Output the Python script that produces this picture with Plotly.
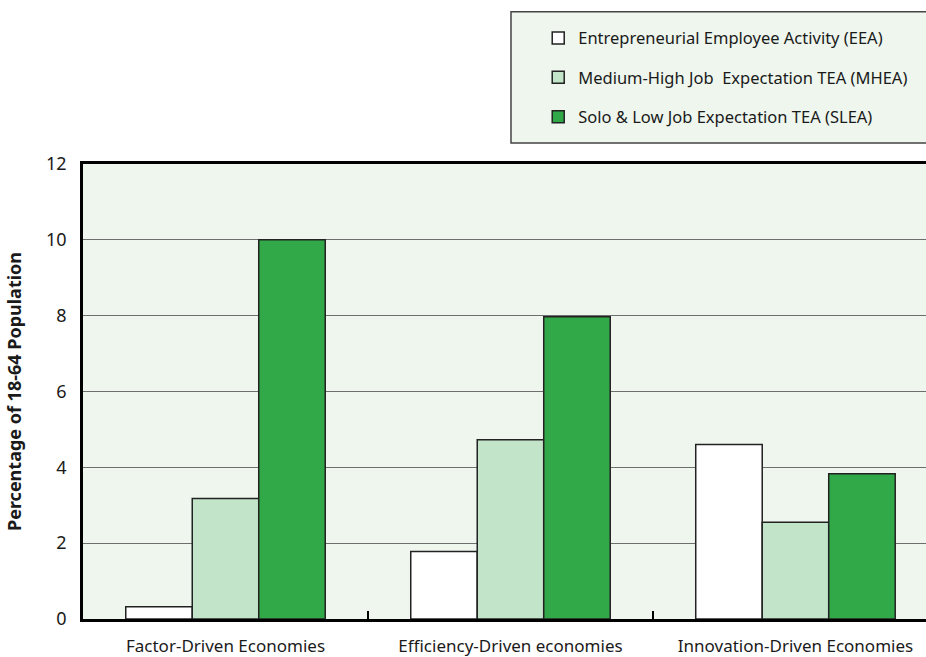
import plotly.graph_objects as go

categories = ["Factor-Driven Economies", "Efficiency-Driven economies", "Innovation-Driven Economies"]
series_names = [
    "Entrepreneurial Employee Activity (EEA)",
    "Medium-High Job  Expectation TEA (MHEA)",
    "Solo & Low Job Expectation TEA (SLEA)",
]
eea = [0.32, 1.78, 4.6]
mhea = [3.18, 4.73, 2.55]
slea = [10.0, 7.97, 3.83]
y_ticks = [0, 2, 4, 6, 8, 10, 12]

colors = ["#FFFFFF", "#C2E5CA", "#32A948"]
FONT = "Noto Sans"

fig = go.Figure()
for i, (name, vals) in enumerate(zip(series_names, [eea, mhea, slea])):
    fig.add_trace(go.Bar(
        x=categories, y=vals, name=name,
        marker=dict(color=colors[i], line=dict(color="#222222", width=1.5)),
        legendgroup=f"g{i}",
    ))

# legend frame
fig.add_shape(type="rect", xref="paper", yref="paper",
              x0=0.5077, x1=1.02, y0=1.046, y1=1.3348,
              line=dict(color="#444444", width=1.5), fillcolor="#EEF6EE", layer="below")

fig.update_layout(
    width=926, height=657,
    margin=dict(l=83, r=0, t=164, b=36, pad=0),
    paper_bgcolor="white",
    plot_bgcolor="#EEF6EE",
    barmode="group",
    bargap=0.3,
    bargroupgap=0,
    font=dict(family=FONT, size=16, color="#1a1a1a"),
    showlegend=True,
    legend=dict(
        x=0.54, y=1.315, xanchor="left", yanchor="top",
        bgcolor="rgba(0,0,0,0)", borderwidth=0,
        font=dict(family=FONT, size=16.5, color="#1a1a1a"),
        traceorder="grouped", tracegroupgap=15,
        itemwidth=30,
    ),
    xaxis=dict(
        range=[-0.5, 2.458],
        showline=True, linecolor="black", linewidth=3, mirror=True,
        ticks="inside", tickson="boundaries", ticklen=8, tickwidth=1.5, tickcolor="black",
        showgrid=False,
        tickfont=dict(family=FONT, size=17, color="#1a1a1a"),
        ticklabelstandoff=10,
    ),
    yaxis=dict(
        range=[0, 12],
        tickvals=y_ticks,
        showline=True, linecolor="black", linewidth=2.5,
        ticks="", showgrid=True, gridcolor="#6E6E6E", gridwidth=1.2,
        zeroline=False,
        tickfont=dict(family=FONT, size=18, color="#1a1a1a"),
        ticklabelstandoff=10,
        title=dict(text="<b>Percentage of 18-64 Population</b>",
                   font=dict(family=FONT, size=18, color="#1a1a1a"), standoff=20),
    ),
)

fig.write_html("out.html",
               config={"displayModeBar": False},
               post_script="document.body.style.margin='0';document.documentElement.style.overflow='hidden';")
